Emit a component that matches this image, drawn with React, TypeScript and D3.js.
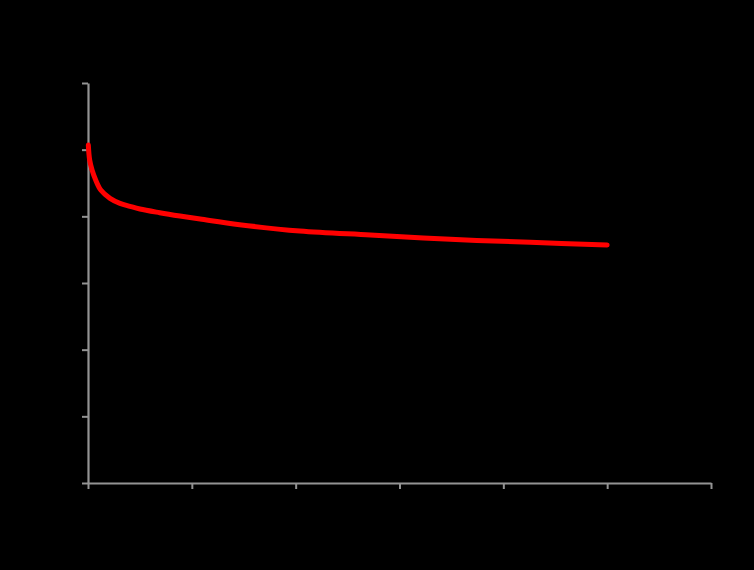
import React, { useEffect, useRef } from "react";
import * as d3 from "d3";

const xTicks = [0, 1, 2, 3, 4, 5, 6];
const yTicks = [0, 1, 2, 3, 4, 5, 6];
const xValues = [0.003, 0.016, 0.039, 0.074, 0.125, 0.212, 0.308, 0.405, 0.5, 0.69, 0.886, 1.08, 1.46, 2.04, 2.72, 3.49, 4.26, 5.0];
const yValues = [5.07, 4.845, 4.695, 4.545, 4.39, 4.27, 4.195, 4.15, 4.11, 4.055, 4.005, 3.96, 3.875, 3.78, 3.72, 3.655, 3.61, 3.57];

const W = 754;
const H = 570;
const margin = { left: 88, right: 43, top: 83, bottom: 87 };

export default function App() {
  const ref = useRef<SVGSVGElement>(null);

  useEffect(() => {
    const svg = d3.select(ref.current);
    svg.selectAll("*").remove();
    const x = d3.scaleLinear().domain([0, 6]).range([margin.left, W - margin.right]);
    const y = d3.scaleLinear().domain([0, 6]).range([H - margin.bottom, margin.top]);

    const axisColor = "#939393";

    const gx = svg
      .append("g")
      .attr("transform", `translate(0,${H - margin.bottom})`)
      .call(d3.axisBottom(x).tickValues(xTicks).tickSize(6).tickSizeOuter(0).tickFormat(() => ""));
    const gy = svg
      .append("g")
      .attr("transform", `translate(${margin.left},0)`)
      .call(d3.axisLeft(y).tickValues(yTicks).tickSize(6).tickSizeOuter(0).tickFormat(() => ""));

    [gx, gy].forEach((g) => {
      g.select(".domain").attr("stroke", axisColor).attr("stroke-width", 2.2);
      g.selectAll(".tick line").attr("stroke", axisColor).attr("stroke-width", 2);
    });

    const data = xValues.map((v, i) => [v, yValues[i]] as [number, number]);
    const line = d3
      .line<[number, number]>()
      .x((d) => x(d[0]))
      .y((d) => y(d[1]))
      .curve(d3.curveCatmullRom.alpha(0.5));

    svg
      .append("path")
      .datum(data)
      .attr("d", line)
      .attr("fill", "none")
      .attr("stroke", "#ff0000")
      .attr("stroke-width", 5)
      .attr("stroke-linecap", "round")
      .attr("stroke-linejoin", "round");
  }, []);

  return (
    <svg
      ref={ref}
      width={W}
      height={H}
      style={{ position: "absolute", left: 0, top: 0, background: "#000", display: "block" }}
    />
  );
}
